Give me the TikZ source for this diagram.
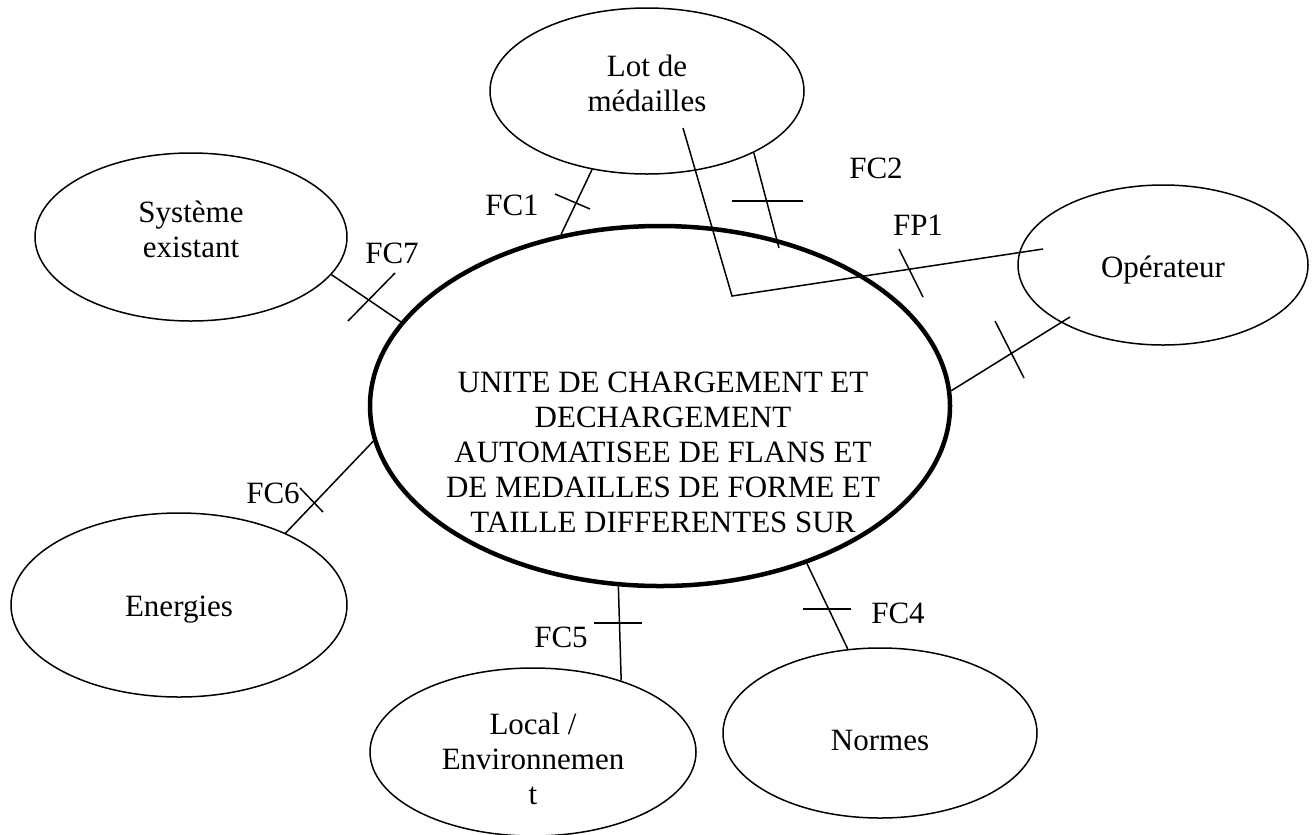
\documentclass[tikz,border=0pt]{standalone}
\usepackage{fontspec}
\setmainfont{Liberation Serif}
\usetikzlibrary{shapes.geometric}

\begin{document}
\begin{tikzpicture}[x=0.4pt,y=-0.4pt,line width=0.6pt,
		font=\fontsize{12.4}{14}\selectfont,
		bulle/.style={draw,ellipse,inner sep=0pt},
		texte/.style={align=center,inner sep=0pt},
		centre/.style={draw,ellipse,inner sep=0pt,line width=1.8pt,minimum width=232pt,minimum height=144pt}]
		\useasboundingbox (0,0) rectangle (1312,834);

		% Systeme etudie
		\node[centre] (unite) at (660,406) {};
		\node[texte] (unitetxt) at (663,452) {UNITE DE CHARGEMENT ET\\DECHARGEMENT\\AUTOMATISEE DE FLANS ET\\DE MEDAILLES DE FORME ET\\TAILLE DIFFERENTES SUR};

		% Milieu exterieur
		\node[bulle,minimum width=125.6pt,minimum height=66.4pt] (lot) at (647,91) {};
		\node[bulle,minimum width=124.8pt,minimum height=67.2pt] (sys) at (191,237) {};
		\node[bulle,minimum width=116pt,minimum height=64pt] (ope) at (1163,265) {};
		\node[bulle,minimum width=134.4pt,minimum height=73.6pt] (ener) at (179,605) {};
		\node[bulle,minimum width=130.4pt,minimum height=67.2pt] (loc) at (533,752) {};
		\node[bulle,minimum width=125.6pt,minimum height=68pt] (norm) at (880,733) {};

		\node[texte] (lottxt) at (647,83) {Lot de\\médailles};
		\node[texte] (systxt) at (191,229) {Système\\existant};
		\node[texte] (opetxt) at (1163,270) {Opérateur};
		\node[texte] (enertxt) at (179,610) {Energies};
		\node[texte] (loctxt) at (533,759) {Local /\\Environnemen\\t};
		\node[texte] (normtxt) at (880,740) {Normes};

		% Extremites libres
		\coordinate (fp1a) at (683,128);
		\coordinate (fp1c) at (732,296);
		\coordinate (fp1b) at (1043,249);
		\coordinate (fc2b) at (779,248);
		\coordinate (opeb) at (1070,317);

		% Fonctions
		\draw (fp1a) -- (fp1c) -- (fp1b);
		\draw (lot.-125.7) -- (unite.120);
		\draw (lot.-30) -- (fc2b);
		\draw (unite.3.3) -- (opeb);
		\draw (sys.-15.7) -- (unite.162.4);
		\draw (unite.187.4) -- (ener.34);
		\draw (unite.-103.2) -- (loc.39.9);
		\draw (unite.-47.1) -- (norm.111.8);

		% Traits de coupe
		\draw (555,194) -- (590,209);
		\draw (732,201) -- (803,201);
		\draw (899,249) -- (923,297);
		\draw (995,321) -- (1024,378);
		\draw (395,273) -- (348,321);
		\draw (300,488) -- (323,512);
		\draw (594,623) -- (642,623);
		\draw (803,609) -- (851,609);

		% Etiquettes
		\node (fc1) at (512,205) {FC1};
		\node (fc2) at (876,168) {FC2};
		\node (fp1) at (918,225) {FP1};
		\node (fc7) at (392,253) {FC7};
		\node (fc6) at (273,493) {FC6};
		\node (fc5) at (561,637) {FC5};
		\node (fc4) at (898,613) {FC4};
	\end{tikzpicture}
\end{document}
